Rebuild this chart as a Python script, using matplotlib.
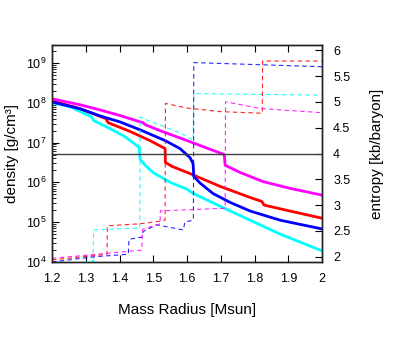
import matplotlib
matplotlib.use("Agg")
import numpy as np
import matplotlib.pyplot as plt
from matplotlib.ticker import LogLocator, NullFormatter, FixedLocator

plt.rcParams['font.family'] = ['Liberation Sans', 'DejaVu Sans']

# density curves (solid, left axis): mass radius, log10(density)
cyan_m = [1.2, 1.253, 1.316, 1.324, 1.372, 1.416, 1.458, 1.461, 1.476, 1.499, 1.55, 1.6, 1.615, 1.624, 1.698, 1.787, 1.876, 2.0]
cyan_rho = [8.0, 7.9, 7.65, 7.55, 7.35, 7.15, 6.88, 6.575, 6.43, 6.25, 6.0, 5.83, 5.74, 5.7, 5.4, 5.05, 4.7, 4.28]

red_m = [1.2, 1.283, 1.36, 1.366, 1.431, 1.49, 1.535, 1.536, 1.556, 1.609, 1.698, 1.787, 1.822, 1.828, 1.905, 2.0]
red_rho = [8.05, 7.85, 7.6, 7.5, 7.28, 7.05, 6.85, 6.5, 6.4, 6.22, 5.9, 5.62, 5.52, 5.43, 5.28, 5.1]

blue_m = [1.2, 1.283, 1.342, 1.401, 1.461, 1.535, 1.579, 1.609, 1.618, 1.62, 1.639, 1.677, 1.727, 1.787, 1.876, 2.0]
blue_rho = [8.02, 7.85, 7.67, 7.52, 7.32, 7.05, 6.85, 6.62, 6.47, 6.15, 5.98, 5.72, 5.5, 5.28, 5.05, 4.83]

mag_m = [1.2, 1.283, 1.342, 1.401, 1.461, 1.47, 1.476, 1.52, 1.6, 1.653, 1.71, 1.713, 1.757, 1.825, 1.905, 2.0]
mag_rho = [8.1, 7.95, 7.82, 7.68, 7.52, 7.5, 7.45, 7.3, 7.05, 6.88, 6.7, 6.43, 6.25, 6.02, 5.85, 5.68]

# entropy curves (dashed, right axis)
cyan_sm = [1.2, 1.33, 1.322, 1.323, 1.46, 1.461, 1.476, 1.52, 1.58, 1.618, 1.62, 2.0]
cyan_s = [1.85, 1.92, 1.92, 2.52, 2.56, 4.71, 4.66, 4.55, 4.4, 4.26, 5.16, 5.13]

blue_sm = [1.2, 1.323, 1.426, 1.428, 1.466, 1.47, 1.51, 1.589, 1.594, 1.614, 1.619, 1.62, 2.0]
blue_s = [1.9, 2.0, 2.05, 2.34, 2.38, 2.49, 2.62, 2.52, 2.68, 2.7, 2.72, 5.76, 5.68]

red_sm = [1.2, 1.363, 1.364, 1.461, 1.52, 1.535, 1.536, 1.6, 1.7, 1.823, 1.824, 2.0]
red_s = [1.94, 2.05, 2.6, 2.64, 2.69, 2.71, 4.97, 4.88, 4.81, 4.78, 5.79, 5.79]

mag_sm = [1.2, 1.466, 1.468, 1.51, 1.52, 1.521, 1.713, 1.714, 1.82, 2.0]
mag_s = [1.97, 2.13, 2.53, 2.62, 2.64, 2.89, 2.94, 5.0, 4.87, 4.79]

fig = plt.figure(figsize=(4.07, 3.49), dpi=100)
ax = fig.add_axes([0.1278, 0.2493, 0.6634, 0.6217])
ax2 = ax.twinx()

for m, r, c in [(cyan_m, cyan_rho, '#00ffff'), (red_m, red_rho, '#ff0000'),
                (blue_m, blue_rho, '#0000ff'), (mag_m, mag_rho, '#ff00ff')]:
    ax.plot(m, 10 ** np.array(r), color=c, lw=2.0)

for m, s, c in [(cyan_sm, cyan_s, '#00ffff'), (blue_sm, blue_s, '#0000ff'),
                (red_sm, red_s, '#ff0000'), (mag_sm, mag_s, '#ff00ff')]:
    ax2.plot(m, s, color=c, lw=0.8, dashes=(4, 3), alpha=0.85)

ax2.axhline(4, color='#404040', lw=1.0)

ax.set_yscale('log')
ax.set_xlim(1.2, 2.0)
ax.set_ylim(1e4, 10 ** 9.45)
ax2.set_ylim(1.9, 6.1)

ax.set_xticks(np.arange(1.2, 2.01, 0.1))
ax.set_xticklabels(['1.2', '1.3', '1.4', '1.5', '1.6', '1.7', '1.8', '1.9', '2'])
ax.yaxis.set_major_locator(FixedLocator([1e4, 1e5, 1e6, 1e7, 1e8, 1e9]))
ax.yaxis.set_minor_locator(LogLocator(base=10, subs=np.arange(2, 10)))
ax.yaxis.set_minor_formatter(NullFormatter())
ax2.set_yticks(np.arange(2, 6.01, 0.5))
ax2.set_yticklabels(['2', '2.5', '3', '3.5', '4', '4.5', '5', '5.5', '6'])

ax.tick_params(axis='x', which='both', direction='in', top=True, length=5, labelsize=9, pad=8)
ax.tick_params(axis='y', which='major', direction='in', length=5, labelsize=9, pad=4)
ax.tick_params(axis='y', which='minor', direction='in', length=3)
ax2.tick_params(axis='y', direction='in', length=5, labelsize=9, pad=8)

ax.set_xlabel('Mass Radius [Msun]', fontsize=11, labelpad=13)
ax.set_ylabel('density [g/cm\u00b3]', fontsize=11, labelpad=5)
ax2.set_ylabel('entropy [kb/baryon]', fontsize=11, labelpad=14)

for a in (ax, ax2):
    for sp in a.spines.values():
        sp.set_linewidth(1.0)
        sp.set_color('#222222')

fig.savefig('out.png', dpi=100)
